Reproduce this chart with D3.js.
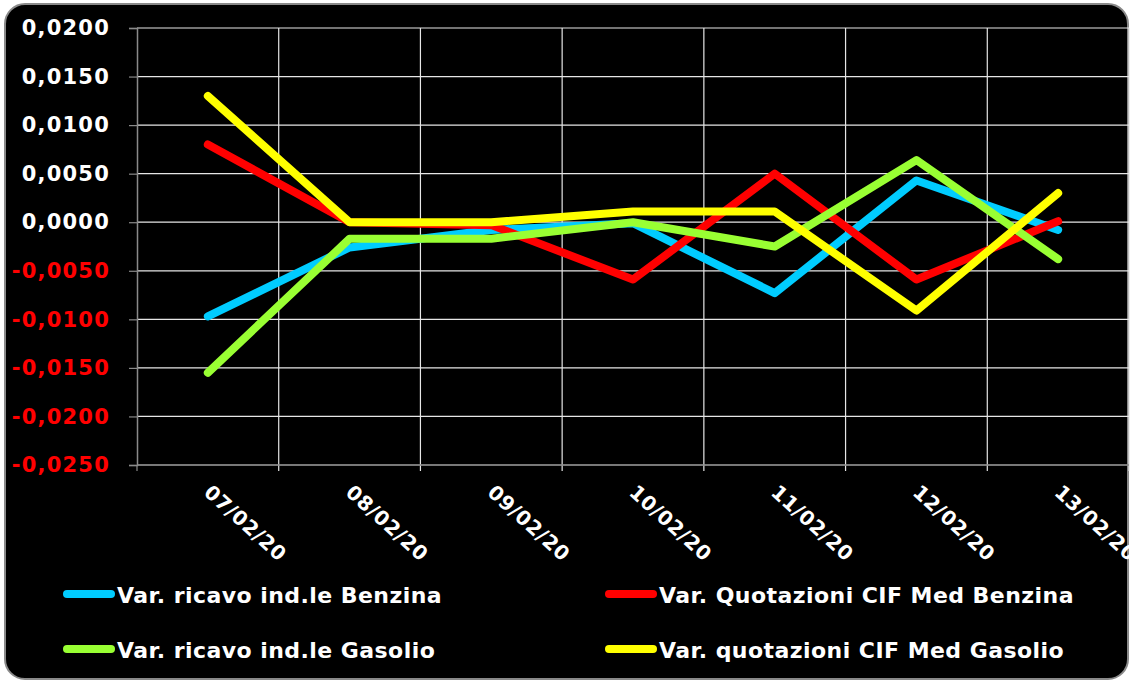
<!DOCTYPE html>
<html><head><meta charset="utf-8">
<script src="https://cdn.jsdelivr.net/npm/d3@7"></script>
<style>html,body{margin:0;padding:0;background:#fff;}svg{display:block;}</style>
</head><body>
<script>
const categories = ["07/02/20","08/02/20","09/02/20","10/02/20","11/02/20","12/02/20","13/02/20"];
const benzinaRicavo = [-0.0097,-0.0026,-0.0008,-0.0001,-0.0073,0.0043,-0.0008];
const benzinaQuot   = [0.0080,0.0000,-0.0003,-0.0059,0.0050,-0.0059,0.0001];
const gasolioRicavo = [-0.0155,-0.0017,-0.0017,0.0000,-0.0025,0.0064,-0.0038];
const gasolioQuot   = [0.0130,0.0000,0.0000,0.0011,0.0011,-0.0091,0.0030];
const yTicks = [0.02,0.015,0.01,0.005,0,-0.005,-0.01,-0.015,-0.02,-0.025];
const seriesNames = ["Var. ricavo ind.le Benzina","Var. Quotazioni CIF Med Benzina","Var. ricavo ind.le Gasolio","Var. quotazioni CIF Med Gasolio"];
const seriesColors = ["#00CCFF","#FF0000","#99FF33","#FFFF00"];
const seriesValues = [benzinaRicavo, benzinaQuot, gasolioRicavo, gasolioQuot];

(function(){
const W = 1131, H = 682;
const svg = d3.select("body").append("svg").attr("width", W).attr("height", H);
const font = "'DejaVu Sans', Verdana, sans-serif";

svg.append("rect").attr("x",5).attr("y",4).attr("width",1123).attr("height",675)
  .attr("rx",20).attr("ry",20).attr("fill","#000").attr("stroke","#8a8a8a").attr("stroke-width",2);

const pL = 137, pR = 1129, pT = 28, pB = 465;
const x = d3.scaleBand().domain(categories).range([pL, pR]).paddingInner(0).paddingOuter(0);
const y = d3.scaleLinear().domain([-0.025, 0.02]).range([pB, pT]);

// horizontal grid
svg.append("g").selectAll("line").data(yTicks).join("line")
  .attr("x1", pL).attr("x2", pR).attr("y1", d => y(d)).attr("y2", d => y(d))
  .attr("stroke", d => d === -0.025 ? "#8a8a8a" : "#e6e6e6").attr("stroke-width", 1.2);

// vertical grid at band boundaries
const bounds = categories.map(c => x(c) + x.bandwidth());
svg.append("g").selectAll("line").data(bounds).join("line")
  .attr("x1", d => d).attr("x2", d => d).attr("y1", pT).attr("y2", pB + 6)
  .attr("stroke", "#e6e6e6").attr("stroke-width", 1.2);

// y axis
const yAxis = d3.axisLeft(y).tickValues(yTicks).tickSize(8).tickPadding(19)
  .tickFormat(d => d3.format(".4f")(d).replace(".", ",").replace("−","-"));
const gy = svg.append("g").attr("transform", `translate(${pL},0)`).call(yAxis);
gy.select(".domain").attr("stroke", "#8a8a8a").attr("stroke-width", 1.5);
gy.selectAll(".tick line").attr("stroke", "#8a8a8a").attr("stroke-width", 1.2);
gy.selectAll(".tick text").attr("font-family", font).attr("font-weight", "bold")
  .attr("font-size", 21).attr("letter-spacing", 1.2)
  .attr("fill", d => d < 0 ? "#FF0000" : "#FFFFFF");

// x axis line
svg.append("line").attr("x1", pL).attr("x2", pR).attr("y1", pB).attr("y2", pB)
  .attr("stroke", "#8a8a8a").attr("stroke-width", 1.5);
svg.append("line").attr("x1", pL).attr("x2", pL).attr("y1", pB).attr("y2", pB + 6)
  .attr("stroke", "#8a8a8a").attr("stroke-width", 1.2);

// x labels
svg.append("g").selectAll("text").data(categories).join("text")
  .attr("transform", d => `translate(${x(d) + x.bandwidth()/2 - 5},${494}) rotate(42)`)
  .attr("font-family", font).attr("font-weight", "bold").attr("font-size", 20)
  .attr("letter-spacing", 0.5)
  .attr("fill", "#fff").attr("text-anchor", "start").text(d => d);

// lines
const line = d3.line().x((d, i) => x(categories[i]) + x.bandwidth()/2).y(d => y(d));
svg.append("g").selectAll("path").data(seriesValues).join("path")
  .attr("d", d => line(d)).attr("fill", "none")
  .attr("stroke", (d, i) => seriesColors[i]).attr("stroke-width", 8)
  .attr("stroke-linejoin", "round").attr("stroke-linecap", "round");

// legend
const legPos = [[63,594],[605,594],[63,649],[605,649]];
const lg = svg.append("g").selectAll("g").data(seriesNames).join("g")
  .attr("transform", (d, i) => `translate(${legPos[i][0]},${legPos[i][1]})`);
lg.append("line").attr("x1", 4).attr("x2", 48).attr("y1", 0).attr("y2", 0)
  .attr("stroke", (d, i) => seriesColors[i]).attr("stroke-width", 8).attr("stroke-linecap", "round");
lg.append("text").attr("x", 54).attr("y", 9).attr("font-family", font).attr("font-weight", "bold")
  .attr("font-size", 22).attr("letter-spacing", 0.45).attr("fill", "#fff").text(d => d);
})();
</script>
</body></html>
